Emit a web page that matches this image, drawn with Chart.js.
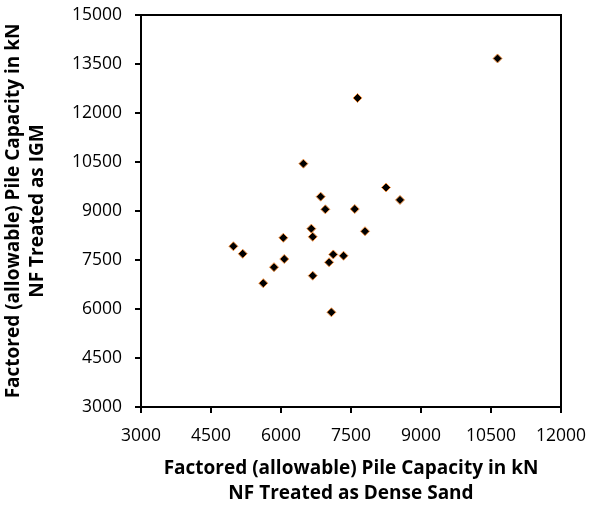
<!DOCTYPE html>
<html>
<head>
<meta charset="utf-8">
<script src="https://cdn.jsdelivr.net/npm/chart.js@4.4.0/dist/chart.umd.min.js"></script>
<style>
  html, body { margin: 0; padding: 0; background: #fff; }
  #wrap { width: 590px; height: 511px; }
</style>
</head>
<body>
<div id="wrap"><canvas id="grafico"></canvas></div>
<script>
// Valores (kN)
const denseSand = [10640, 7640, 6480, 8250, 8550, 6850, 6950, 7580, 6650, 6680, 7800,
                   6050, 4980, 5180, 6070, 7120, 7340, 7030, 5850, 6680, 5620, 7080];
const igm = [13670, 12460, 10450, 9720, 9340, 9440, 9050, 9060, 8460, 8210, 8380,
             8180, 7920, 7690, 7530, 7670, 7630, 7430, 7280, 7020, 6790, 5900];

const xTicks = [3000, 4500, 6000, 7500, 9000, 10500, 12000];
const yTicks = [3000, 4500, 6000, 7500, 9000, 10500, 12000, 13500, 15000];

const xTitle = ['Factored (allowable) Pile Capacity in kN', 'NF Treated as Dense Sand'];
const yTitle = ['Factored (allowable) Pile Capacity in kN', 'NF Treated as IGM'];

const fuente = '"Open Sans", sans-serif';

const puntos = denseSand.map((x, i) => ({ x: x, y: igm[i] }));

// Marco superior y derecho del área del gráfico
const marco = {
    id: 'marco',
    afterDraw(chart) {
        const a = chart.chartArea;
        const ctx = chart.ctx;
        ctx.save();
        ctx.strokeStyle = '#000';
        ctx.lineWidth = 2;
        ctx.beginPath();
        ctx.moveTo(a.left, a.top);
        ctx.lineTo(a.right, a.top);
        ctx.lineTo(a.right, a.bottom);
        ctx.stroke();
        ctx.restore();
    }
};

function ejeComun(ticks, title, min, max) {
    return {
        type: 'linear',
        min: min,
        max: max,
        afterBuildTicks: (axis) => { axis.ticks = ticks.map(v => ({ value: v })); },
        grid: { drawOnChartArea: false, drawTicks: true, tickLength: 6, color: '#000', lineWidth: 2 },
        border: { display: true, color: '#000', width: 2 },
        ticks: {
            color: '#000',
            font: { family: fuente, size: 17.5 },
            padding: 8,
            callback: (v) => String(v)
        },
        title: {
            display: true, text: title, color: '#000',
            font: { family: fuente, size: 19, weight: 'bold', lineHeight: 1.3 }
        }
    };
}

const xEje = ejeComun(xTicks, xTitle, 3000, 12000);
xEje.afterFit = (s) => { s.height = 104; s.paddingLeft = 0; s.paddingRight = 0; };
xEje.ticks.padding = 13;
xEje.title.padding = { top: 0, bottom: 5 };
const yEje = ejeComun(yTicks, yTitle, 3000, 15000);
yEje.afterFit = (s) => { s.width = 141; s.paddingTop = 0; s.paddingBottom = 0; };
yEje.ticks.padding = 13;
yEje.title.font.lineHeight = 1.28;
yEje.title.padding = { top: 1, bottom: 0 };

new Chart(document.getElementById('grafico'), {
    type: 'scatter',
    data: {
        datasets: [{
            data: puntos,
            pointStyle: 'rectRot',
            pointRadius: 4.5,
            pointBackgroundColor: '#000',
            pointBorderColor: '#F79646',
            pointBorderWidth: 1
        }]
    },
    options: {
        responsive: true,
        maintainAspectRatio: false,
        animation: false,
        layout: { padding: { top: 15, right: 29, left: 0, bottom: 0 } },
        plugins: { legend: { display: false }, tooltip: { enabled: false } },
        scales: { x: xEje, y: yEje }
    },
    plugins: [marco]
});
</script>
</body>
</html>
